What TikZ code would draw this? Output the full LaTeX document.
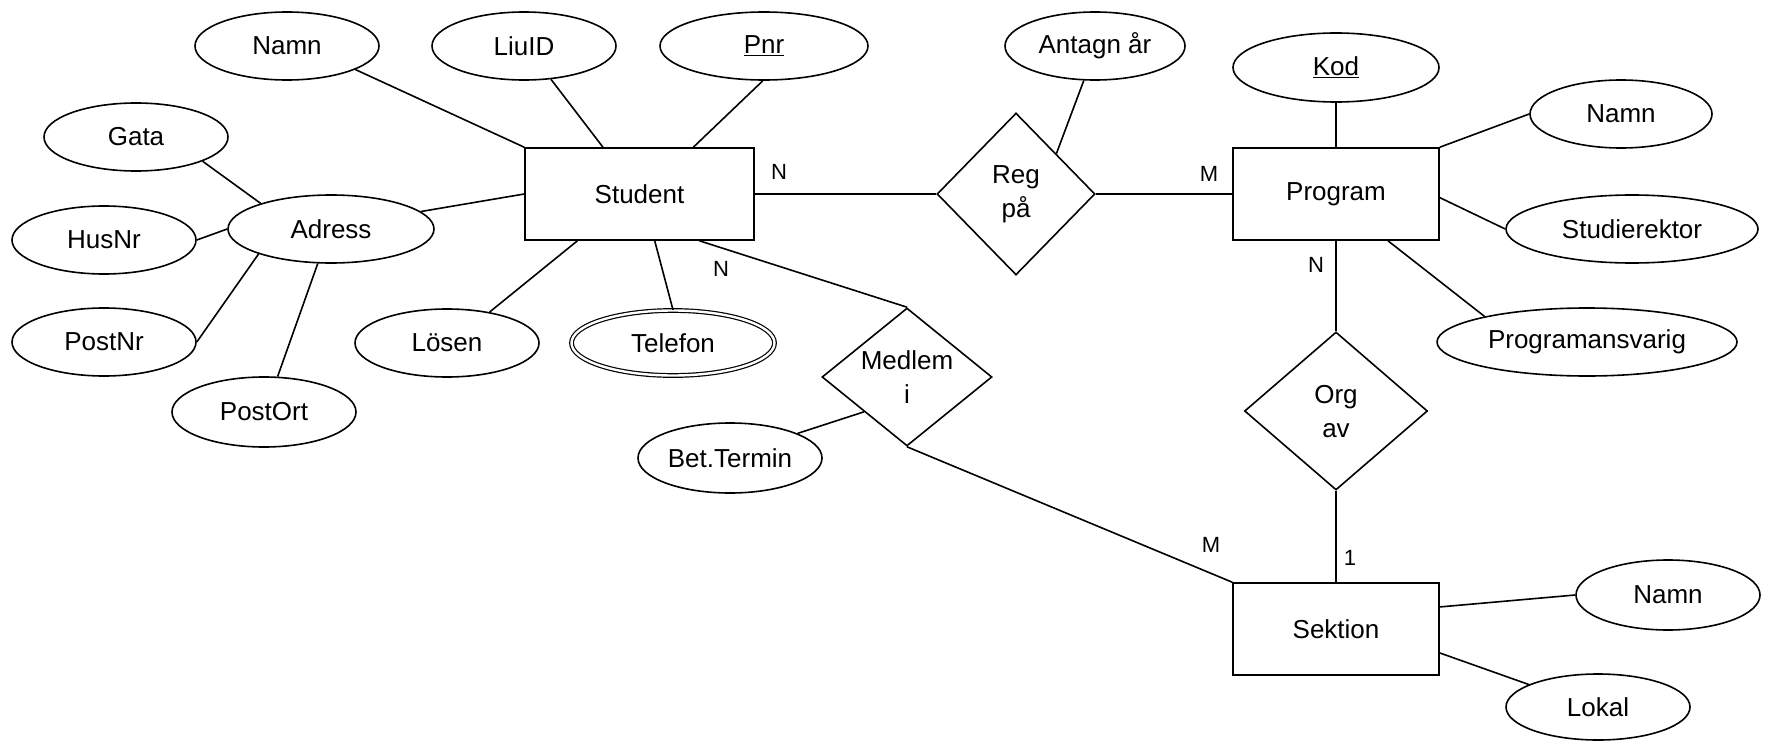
\documentclass[tikz,border=0pt]{standalone}
\usepackage{fontspec}
\setmainfont{Liberation Sans}
\usetikzlibrary{shapes.geometric}
\begin{document}
\begin{tikzpicture}[x=1pt,y=-1pt,
  every node/.style={font=\fontsize{26}{34}\selectfont, line width=1.6pt, inner sep=0pt},
  attr/.style={draw, ellipse},
  ent/.style={draw, rectangle, minimum width=206pt, minimum height=92pt},
  rel/.style={draw, diamond},
  reltext/.style={align=center},
  card/.style={font=\fontsize{22}{26}\selectfont},
  conn/.style={line width=1.6pt}]
\useasboundingbox (0,0) rectangle (1771,741);

% entities
\node[ent, minimum width=229pt] (student) at (639.5,194) {Student};
\node[ent] (program) at (1336,194) {Program};
\node[ent] (sektion) at (1336,629) {Sektion};

% relationships
\node[rel, minimum width=158pt, minimum height=162pt] (reg) at (1016,194) {};
\node[reltext] (regT) at (1016,194.5) {Reg\\på};
\node[rel, minimum width=170pt, minimum height=138pt] (medlem) at (907,377) {};
\node[reltext] (medlemT) at (907,377) {Medlem\\i};
\node[rel, minimum width=183pt, minimum height=158pt] (org) at (1336,411) {};
\node[reltext] (orgT) at (1336,411.5) {Org\\av};

% attributes of Student
\node[attr, minimum width=184pt, minimum height=68pt] (namnS) at (287,46) {Namn};
\node[attr, minimum width=184pt, minimum height=68pt] (liuid) at (524,46) {LiuID};
\node[attr, minimum width=208pt, minimum height=68pt] (pnr) at (764,46) {\underline{Pnr}};
\node[attr, minimum width=206pt, minimum height=68pt] (adress) at (331,229) {Adress};
\node[attr, minimum width=184pt, minimum height=68pt] (gata) at (136,137) {Gata};
\node[attr, minimum width=184pt, minimum height=68pt] (husnr) at (104,240) {HusNr};
\node[attr, minimum width=184pt, minimum height=68pt] (postnr) at (104,342) {PostNr};
\node[attr, minimum width=184pt, minimum height=70pt] (postort) at (264,412) {PostOrt};
\node[attr, minimum width=184pt, minimum height=68pt] (losen) at (447,343) {Lösen};
\node[attr, double, line width=1.2pt, double distance=2.4pt,
      minimum width=203pt, minimum height=65pt] (telefon) at (673,343) {Telefon};

% attribute of Reg på
\node[attr, minimum width=180pt, minimum height=68pt] (antagn) at (1095,46) {Antagn år};

% attributes of Program
\node[attr, minimum width=206pt, minimum height=69pt] (kod) at (1336,67.5) {\underline{Kod}};
\node[attr, minimum width=182pt, minimum height=68pt] (namnP) at (1621,114) {Namn};
\node[attr, minimum width=252pt, minimum height=68pt] (studierektor) at (1632,229) {Studierektor};
\node[attr, minimum width=300pt, minimum height=68pt] (progansv) at (1587,342) {Programansvarig};

% attribute of Medlem i
\node[attr, minimum width=184pt, minimum height=70pt] (bet) at (730,458) {Bet.Termin};

% attributes of Sektion
\node[attr, minimum width=184pt, minimum height=70pt] (namnSk) at (1668,595) {Namn};
\node[attr, minimum width=184pt, minimum height=66pt] (lokal) at (1598,707) {Lokal};

% cardinalities
\node[card] (cSR) at (779,172) {N};
\node[card] (cSM) at (721,269) {N};
\node[card] (cPR) at (1209,174) {M};
\node[card] (cPO) at (1316,265) {N};
\node[card] (cSkM) at (1211,545) {M};
\node[card] (cSkO) at (1350,558) {1};

% connectors
\draw[conn] (namnS.-19) -- (student.north west);
\draw[conn] (liuid.-51) -- (student.128);
\draw[conn] (pnr.-92) -- (student.41);
\draw[conn] (adress.11) -- (student.west);
\draw[conn] (gata.-20) -- (adress.160);
\draw[conn] (husnr.east) -- (adress.west);
\draw[conn] (postnr.east) -- (adress.199);
\draw[conn] (postort.69) -- (adress.249);
\draw[conn] (losen.36) -- (student.217);
\draw[conn] (telefon.north) -- (student.-72);
\draw[conn] (student.-38) -- (medlem.north);
\draw[conn] (student.east) -- (reg.west);
\draw[conn] (antagn.-108) -- (reg.45);
\draw[conn] (reg.east) -- (program.west);
\draw[conn] (kod.south) -- (program.north);
\draw[conn] (namnP.west) -- (program.north east);
\draw[conn] (studierektor.west) -- (program.-2);
\draw[conn] (progansv.166) -- (program.-42);
\draw[conn] (program.south) -- (org.north);
\draw[conn] (org.south) -- (sektion.north);
\draw[conn] (medlem.south) -- (sektion.north west);
\draw[conn] (bet.20) -- (medlem.219);
\draw[conn] (sektion.12) -- (namnSk.west);
\draw[conn] (sektion.-13) -- (lokal.162);
\end{tikzpicture}
\end{document}
